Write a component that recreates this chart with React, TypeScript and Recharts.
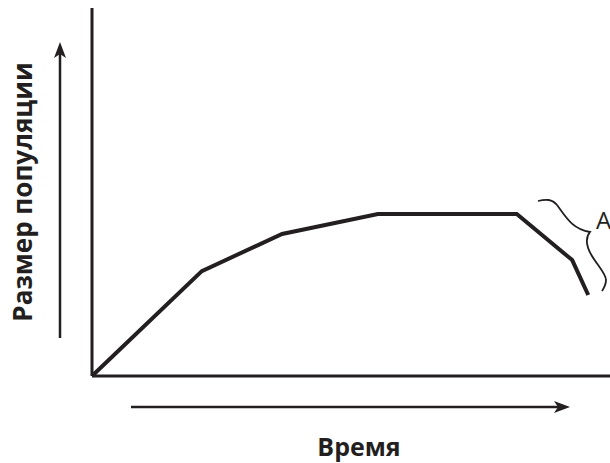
import { ComposedChart, Line, XAxis, YAxis, Label } from "recharts";

// время (условные единицы) и размер популяции
const time = [0, 21.2, 36.7, 55.2, 82.0, 92.7, 95.8];
const population = [0, 28.5, 38.6, 44.0, 44.0, 31.5, 22.0];

const xTitle = "Время";
const yTitle = "Размер популяции";
const braceLabel = "А";

const data = time.map((t, i) => ({ t, n: population[i] }));

const INK = "#231f20";
const FONT = "'Open Sans', 'Noto Sans', sans-serif";

export default function App() {
  return (
    <div style={{ position: "absolute", left: 0, top: 0, width: 610, height: 463, background: "#fff" }}>
      <ComposedChart
        width={610}
        height={463}
        data={data}
        margin={{ top: 8, right: 0, left: 0, bottom: 0 }}
      >
        <XAxis
          dataKey="t"
          type="number"
          domain={[0, 100]}
          tick={false}
          tickLine={false}
          axisLine={{ stroke: INK, strokeWidth: 3 }}
          height={87}
        >
          <Label
            value={xTitle}
            position="insideBottom"
            offset={7}
            dx={8}
            style={{ fontFamily: FONT, fontWeight: 700, fontSize: 25, fill: INK }}
          />
        </XAxis>
        <YAxis
          type="number"
          domain={[0, 100]}
          tick={false}
          tickLine={false}
          axisLine={{ stroke: INK, strokeWidth: 3 }}
          width={92}
        >
          <Label
            value={yTitle}
            angle={-90}
            position="insideLeft"
            offset={23}
            style={{ fontFamily: FONT, fontWeight: 700, fontSize: 26, fill: INK, textAnchor: "middle" }}
          />
        </YAxis>
        <Line
          dataKey="n"
          stroke={INK}
          strokeWidth={4}
          dot={false}
          activeDot={false}
          strokeLinejoin="miter"
          isAnimationActive={false}
        />
      </ComposedChart>
      <svg
        width={610}
        height={463}
        style={{ position: "absolute", left: 0, top: 0, pointerEvents: "none" }}
      >
        <defs>
          <marker
            id="head"
            viewBox="0 0 16 12"
            refX="6"
            refY="6"
            markerWidth="6.4"
            markerHeight="4.8"
            orient="auto"
          >
            <path d="M0,0 L16,6 L0,12 L4,6 Z" fill={INK} />
          </marker>
        </defs>
        <line x1={60} y1={338} x2={60} y2={52} stroke={INK} strokeWidth={2.5} markerEnd="url(#head)" />
        <line x1={131} y1={407} x2={560} y2={407} stroke={INK} strokeWidth={2.5} markerEnd="url(#head)" />
        <path
          d="M538,201 C546,199 552,199 557,205 C566,217 572,229 590,232 C585,238 586,246 592,256 C598,266 606,274 606,280 C606,285 604,288 602,291"
          fill="none"
          stroke={INK}
          strokeWidth={1.8}
        />
        <text x={596} y={229} fontFamily={FONT} fontSize={24} fill={INK}>
          {braceLabel}
        </text>
      </svg>
    </div>
  );
}
